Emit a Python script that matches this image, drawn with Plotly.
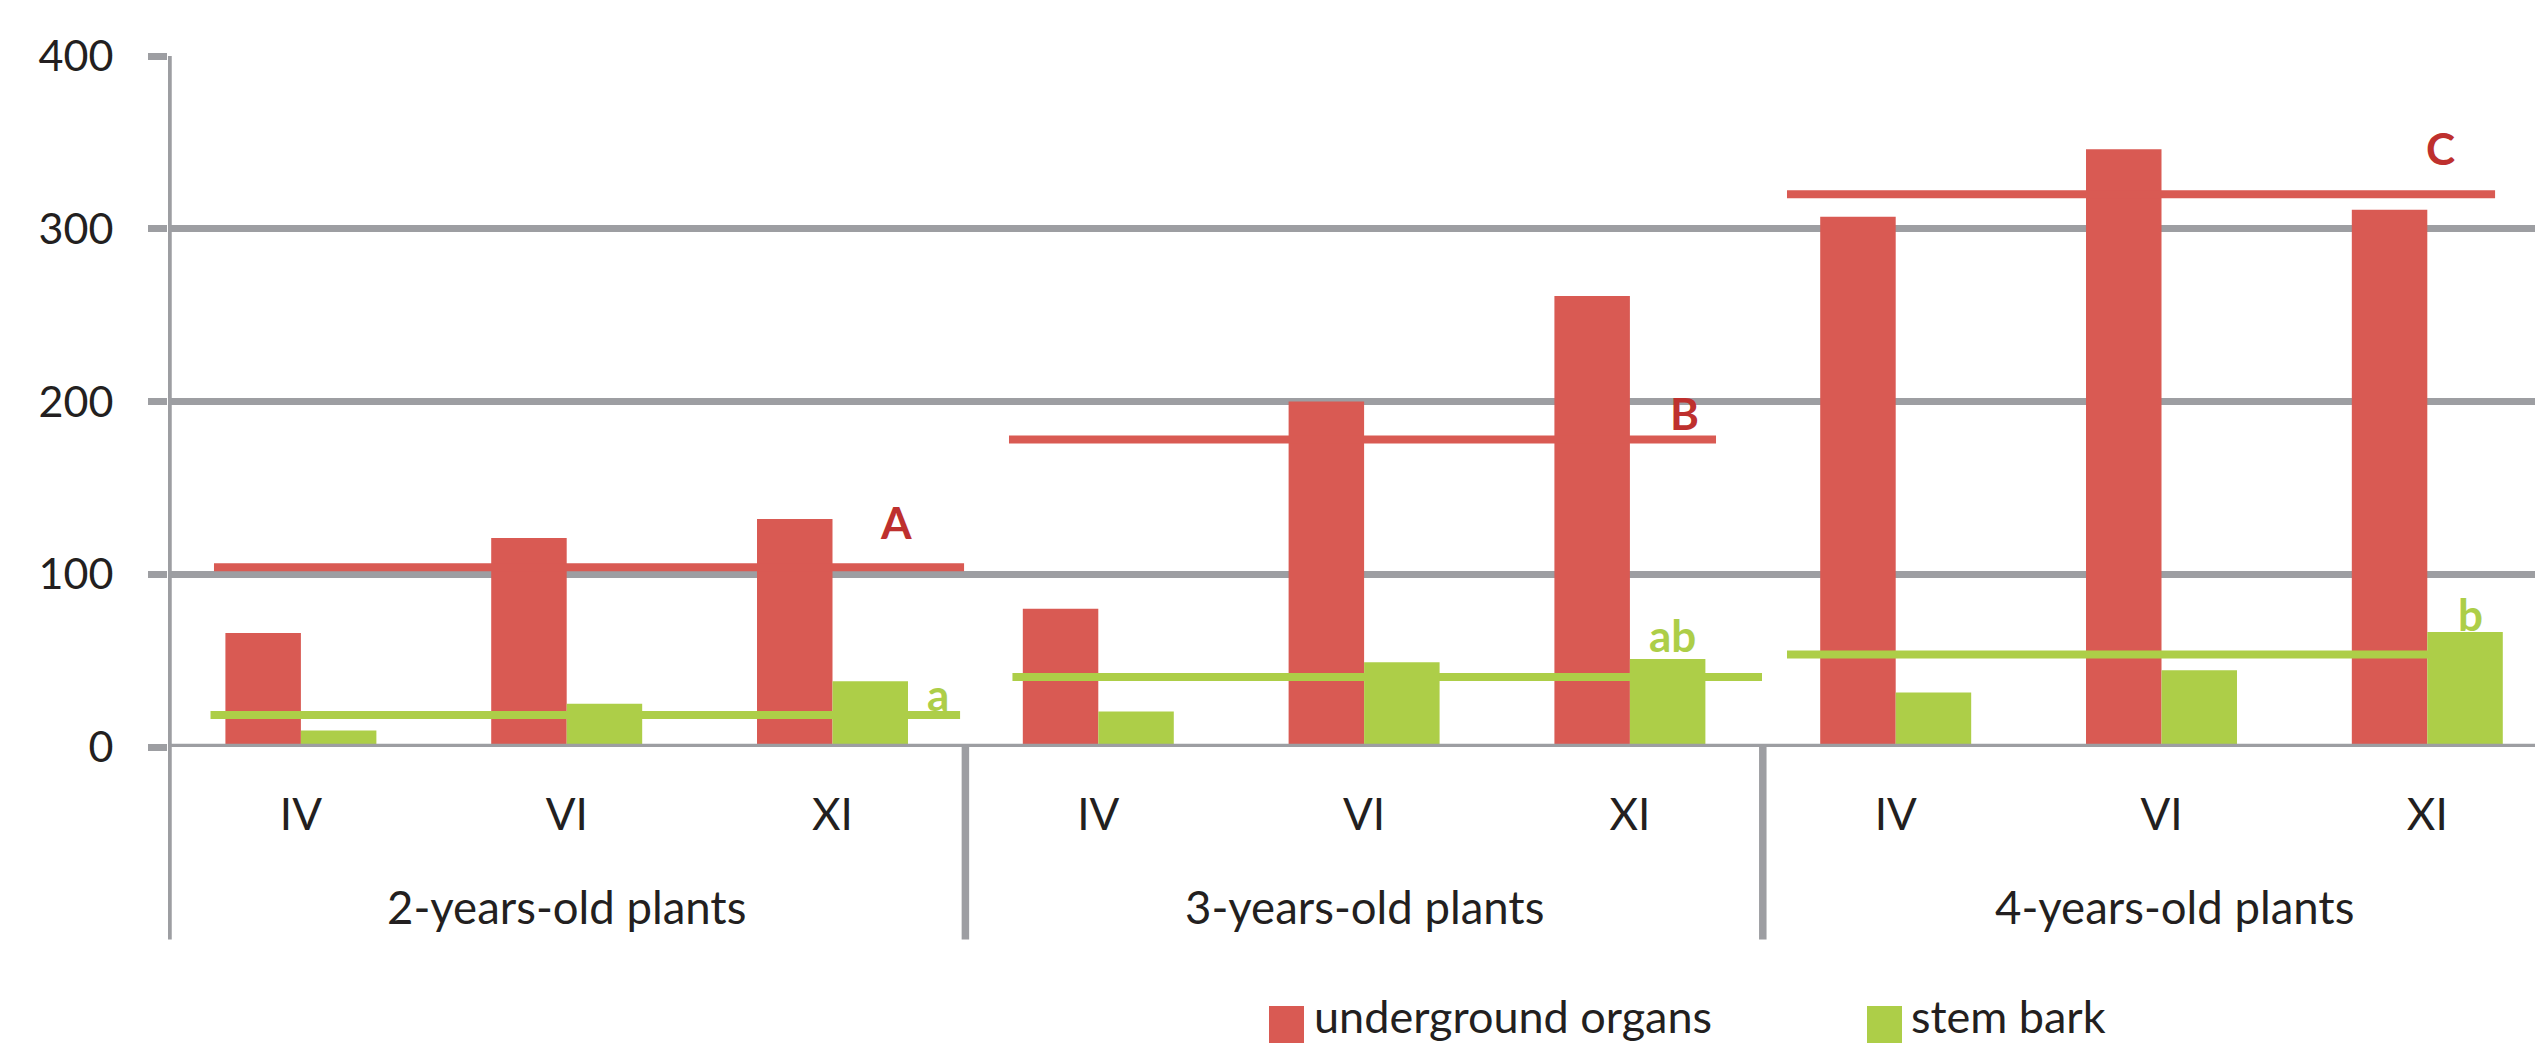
import plotly.graph_objects as go

# --- data -------------------------------------------------------------
months = ["IV", "VI", "XI"]
groups = ["2-years-old plants", "3-years-old plants", "4-years-old plants"]
underground = [66, 121, 132, 80, 200, 261, 307, 346, 311]
stem_bark = [9.5, 25, 38, 20.5, 49, 51, 31.5, 44.5, 66.5]
# group means drawn as horizontal bars with significance letters
under_means = [104, 178, 320]
bark_means = [18.5, 40.5, 53.5]
under_letters = ["A", "B", "C"]
bark_letters = ["a", "ab", "b"]
y_ticks = [0, 100, 200, 300, 400]

# --- styling ----------------------------------------------------------
RED = "#D95A53"
GREEN = "#ADCE48"
RED_TXT = "#BE302E"
GRID = "#9D9EA2"
TXT = "#231F20"
FONT = "Lato"

W, H = 2535, 1043
ML, MT = 168, 56.3
PLOT_BOTTOM = 747.5
PH = PLOT_BOTTOM - MT
PW = W - ML

def py(pix):
    """pixel row -> paper y"""
    return (PLOT_BOTTOM - pix) / PH

def px(pix):
    """pixel column -> paper x"""
    return (pix - ML) / PW

x = list(range(len(underground)))
ticktext = months * len(groups)

fig = go.Figure()
fig.add_trace(go.Bar(x=x, y=underground, name="underground organs",
                     marker=dict(color=RED, line=dict(width=0))))
fig.add_trace(go.Bar(x=x, y=stem_bark, name="stem bark",
                     marker=dict(color=GREEN, line=dict(width=0))))

# horizontal mean lines per group (category units)
under_spans = [(-0.327, 2.495), (2.664, 5.324), (5.591, 8.255)]
bark_spans = [(-0.34, 2.48), (2.677, 5.497), (5.591, 8.23)]
for (a, b), m in zip(under_spans, under_means):
    fig.add_trace(go.Scatter(x=[a, b], y=[m, m], mode="lines",
                             line=dict(color=RED, width=8), showlegend=False,
                             hoverinfo="skip"))
for (a, b), m in zip(bark_spans, bark_means):
    fig.add_trace(go.Scatter(x=[a, b], y=[m, m], mode="lines",
                             line=dict(color=GREEN, width=8), showlegend=False,
                             hoverinfo="skip"))

annotations = []
under_lbl_pos = [(2.24, 130.2), (5.207, 193.6), (8.048, 347)]
bark_lbl_pos = [(2.397, 30.5), (5.162, 65.0), (8.161, 77.0)]
for (lx, ly), t in zip(under_lbl_pos, under_letters):
    annotations.append(dict(x=lx, y=ly, xref="x", yref="y", text=f"<b>{t}</b>",
                            showarrow=False, xanchor="center", yanchor="middle",
                            font=dict(family=FONT, size=44, color=RED_TXT)))
for (lx, ly), t in zip(bark_lbl_pos, bark_letters):
    annotations.append(dict(x=lx, y=ly, xref="x", yref="y", text=f"<b>{t}</b>",
                            showarrow=False, xanchor="center", yanchor="middle",
                            font=dict(family=FONT, size=44, color=GREEN)))

# group labels under the month labels
group_x = [1, 4, 7.05]
for gx, g in zip(group_x, groups):
    annotations.append(dict(x=gx, y=py(907), xref="x", yref="paper", text=g,
                            showarrow=False, xanchor="center", yanchor="middle",
                            font=dict(family=FONT, size=45.5, color=TXT)))

# legend drawn by hand (large swatches)
legend_items = [("underground organs", RED, 1269, 1304, 1312),
                ("stem bark", GREEN, 1867, 1902, 1909)]
shapes = []
for name, col, x0, x1, tx in legend_items:
    shapes.append(dict(type="rect", xref="paper", yref="paper",
                       x0=px(x0), x1=px(x1), y0=py(1050), y1=py(1006.5),
                       fillcolor=col, line=dict(width=0), layer="above"))
    annotations.append(dict(x=px(tx), y=py(1017), xref="paper", yref="paper",
                            text=name, showarrow=False, xanchor="left",
                            yanchor="middle",
                            font=dict(family=FONT, size=45, color=TXT)))

# vertical axis line and group dividers extending below the plot
LINE_BOTTOM = py(940)
for xv in [-0.5, 2.5, 5.5]:
    shapes.append(dict(type="line", xref="x", yref="paper", x0=xv, x1=xv,
                       y0=LINE_BOTTOM, y1=1.0 if xv == -0.5 else 0,
                       line=dict(color=GRID, width=7.5), layer="above"))
# zero line on top of the bars
shapes.append(dict(type="line", xref="paper", yref="y", x0=0, x1=1, y0=0, y1=0,
                   line=dict(color=GRID, width=6.5), layer="above"))

fig.update_layout(
    width=W, height=H,
    margin=dict(l=ML, r=0, t=MT, b=H - PLOT_BOTTOM, pad=0),
    paper_bgcolor="white", plot_bgcolor="white",
    barmode="group", bargap=0.432, bargroupgap=0,
    showlegend=False,
    font=dict(family=FONT, color=TXT),
    annotations=annotations, shapes=shapes,
    xaxis=dict(range=[-0.5, -0.5 + PW / 265.8], tickvals=x, ticktext=ticktext,
               showgrid=False, zeroline=False, showline=False, ticks="",
               tickfont=dict(family=FONT, size=44, color=TXT),
               ticklabelstandoff=38),
    yaxis=dict(range=[0, 400], tickvals=y_ticks, showgrid=True,
               gridcolor=GRID, gridwidth=6.5, zeroline=False, showline=False,
               ticks="outside", ticklen=19, tickwidth=6.5, tickcolor=GRID,
               tickfont=dict(family=FONT, size=43, color=TXT),
               ticklabelstandoff=26),
)

fig.write_html("out.html")
